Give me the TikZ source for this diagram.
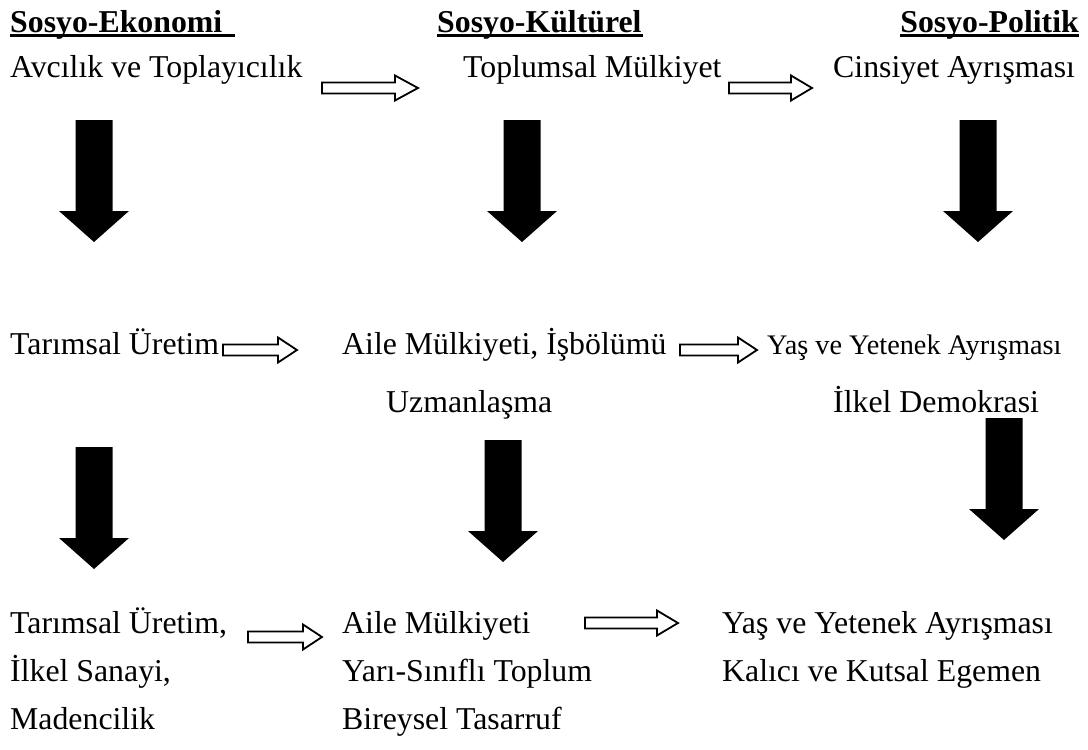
\documentclass[tikz,border=0pt]{standalone}
\usepackage{fontspec}
\setmainfont{Liberation Serif}
\usetikzlibrary{calc}

% hollow arrow: tail coordinate, length, head length
\newcommand{\hollowarrow}[3]{%
  \draw[hollow] ($(#1)+(0,-5.5)$) -- ++(#2-#3,0) -- ++(0,-7) -- ++(#3,12.5)
    -- ++(-#3,12.5) -- ++(0,-7) -- ++(-#2+#3,0) -- cycle;}
% black block arrow: top of shaft
\newcommand{\blockarrow}[1]{%
  \fill ($(#1)+(-18.5,0)$) -- ++(37,0) -- ++(0,91) -- ++(16.5,0) -- ++(-35,31)
    -- ++(-35,-31) -- ++(16.5,0) -- cycle;}

\begin{document}
\begin{tikzpicture}[x=1pt,y=-1pt,
txt/.style={anchor=base west,inner sep=0pt,font=\fontsize{31.8}{38}\selectfont},
head/.style={txt,font=\fontsize{31.8}{38}\selectfont\bfseries},
small/.style={txt,font=\fontsize{28.3}{34}\selectfont},
uline/.style={line width=2.4pt},
hollow/.style={draw,line width=1.8pt,fill=white,line join=miter}]

\useasboundingbox (0,0) rectangle (1088,750);

% headers
\node[head] (eko) at (10,32) {Sosyo-Ekonomi};
\node[head] (kul) at (437,32) {Sosyo-Kültürel};
\node[head,anchor=base east] (pol) at (1079,32) {Sosyo-Politik};
\draw[uline] ($(eko.base west)+(0,3.5)$) -- ++(225,0);
\draw[uline] ($(kul.base west)+(0,3.5)$) -- ++(206,0);
\draw[uline] ($(pol.base west)+(0,3.5)$) -- (pol.base east |- 0,35.5);

% first row
\node[txt] (avci) at (10,77) {Avcılık ve Toplayıcılık};
\node[txt] (toplum) at (463,77) {Toplumsal Mülkiyet};
\node[txt] (cins) at (833,77) {Cinsiyet Ayrışması};
\coordinate (h1) at (322,88);
\coordinate (h2) at (729,88);
\hollowarrow{h1}{96}{23}
\hollowarrow{h2}{83}{21}

\coordinate (b1) at (94,120);
\coordinate (b2) at (522,120);
\coordinate (b3) at (978,120);
\foreach \b in {b1,b2,b3} {\blockarrow{\b}}

% second row
\node[txt] (tarim) at (10,354) {Tarımsal Üretim};
\node[txt] (aile) at (342,354) {Aile Mülkiyeti, İşbölümü};
\node[small] (yas) at (767,354) {Yaş ve Yetenek Ayrışması};
\node[txt] (uzman) at (386,412) {Uzmanlaşma};
\node[txt] (ilkel) at (833,412) {İlkel Demokrasi};
\coordinate (h3) at (223,350);
\coordinate (h4) at (680,350);
\hollowarrow{h3}{74}{19}
\hollowarrow{h4}{77}{19}

\coordinate (b4) at (94,447);
\coordinate (b5) at (503,440);
\coordinate (b6) at (1004,418);
\foreach \b in {b4,b5,b6} {\blockarrow{\b}}

% third row
\node[txt] (tarim2) at (10,633) {Tarımsal Üretim,};
\node[txt] (sanayi) at (10,681) {İlkel Sanayi,};
\node[txt] (maden) at (10,729) {Madencilik};
\node[txt] (aile2) at (342,633) {Aile Mülkiyeti};
\node[txt] (yari) at (342,681) {Yarı-Sınıflı Toplum};
\node[txt] (birey) at (342,729) {Bireysel Tasarruf};
\node[txt] (yas2) at (722,633) {Yaş ve Yetenek Ayrışması};
\node[txt] (kalici) at (722,681) {Kalıcı ve Kutsal Egemen};
\coordinate (h5) at (248,637);
\coordinate (h6) at (585,623);
\hollowarrow{h5}{74}{19}
\hollowarrow{h6}{93}{21}
\end{tikzpicture}
\end{document}
